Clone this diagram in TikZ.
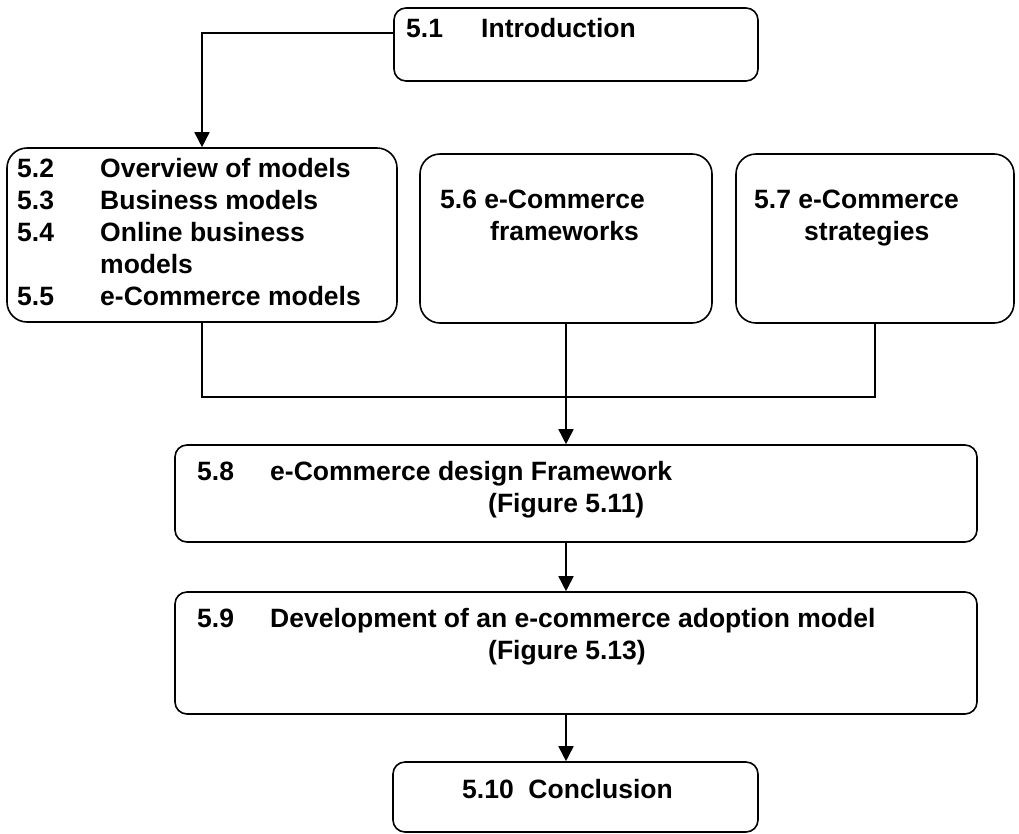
\documentclass[tikz,border=0pt]{standalone}
\usepackage{fontspec}
\setmainfont{Liberation Sans}
\usetikzlibrary{arrows.meta}
\begin{document}
\begin{tikzpicture}[x=1pt,y=-1pt,
  box/.style={draw, line width=1.6pt, rounded corners=12pt, inner sep=0pt},
  bigbox/.style={box, rounded corners=20pt},
  txt/.style={anchor=base west, inner sep=0pt, font=\fontsize{26.5}{32}\selectfont\bfseries},
  link/.style={line width=1.6pt},
  arrowlink/.style={link, -{Triangle[length=15pt,width=15pt]}}
]
\useasboundingbox (0,0) rectangle (1019,833);

% chapter section boxes
\node[box, minimum width=364pt, minimum height=73pt] (intro) at (576,44.5) {};
\node[bigbox, minimum width=390pt, minimum height=174pt] (m25) at (202,235) {};
\node[bigbox, minimum width=292pt, minimum height=169pt] (m6) at (566,238.5) {};
\node[bigbox, minimum width=278pt, minimum height=169pt] (m7) at (875,238.5) {};
\node[box, minimum width=802pt, minimum height=97pt] (m8) at (576,493.5) {};
\node[box, minimum width=802pt, minimum height=122pt] (m9) at (576,653) {};
\node[box, minimum width=365pt, minimum height=70pt] (m10) at (575.5,797) {};

% box texts
\node[txt] (t51) at (406,37) {5.1};
\node[txt] (t51b) at (481,37) {Introduction};

\node[txt] (n52) at (17,177) {5.2};
\node[txt] (t52) at (100,177) {Overview of models};
\node[txt] (n53) at (17,209) {5.3};
\node[txt] (t53) at (100,209) {Business models};
\node[txt] (n54) at (17,241) {5.4};
\node[txt] (t54) at (100,241) {Online business};
\node[txt] (t54b) at (100,273) {models};
\node[txt] (n55) at (17,305) {5.5};
\node[txt] (t55) at (100,305) {e-Commerce models};

\node[txt] (t56) at (440,208) {5.6 e-Commerce};
\node[txt] (t56b) at (490,240) {frameworks};

\node[txt] (t57) at (754,208) {5.7 e-Commerce};
\node[txt] (t57b) at (804,240) {strategies};

\node[txt] (n58) at (197,480) {5.8};
\node[txt] (t58) at (270,480) {e-Commerce design Framework};
\node[txt] (t58b) at (488,512) {(Figure 5.11)};

\node[txt] (n59) at (197,627) {5.9};
\node[txt] (t59) at (270,627) {Development of an e-commerce adoption model};
\node[txt] (t59b) at (488,659) {(Figure 5.13)};

\node[txt] (t510) at (462,798) {5.10\ \ Conclusion};

% connectors
\coordinate (hub) at (566,397);
\draw[arrowlink] ([yshift=11.5pt]intro.west) -| (m25.north);
\draw[link] (m25.south) |- (hub) -| (m7.south);
\draw[arrowlink] (m6.south) -- (m6.south |- m8.north);
\draw[arrowlink] (m8.south -| m6.south) -- (m9.north -| m6.south);
\draw[arrowlink] (m9.south -| m6.south) -- (m10.north -| m6.south);
\end{tikzpicture}
\end{document}
